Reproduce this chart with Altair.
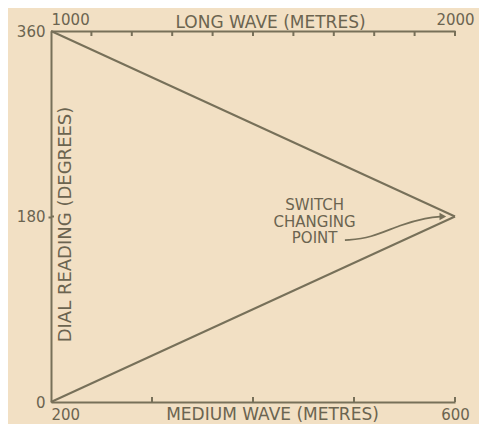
import altair as alt
import pandas as pd

# ---- data ----
mw_wave = [200, 600]          # medium wave (metres)
mw_dial = [0, 180]            # dial reading (degrees)
lw_wave = [2000, 1000]        # long wave (metres)
lw_dial = [180, 360]
mw_tick_values = [300, 400, 500, 600]
lw_tick_values = [1100, 1200, 1300, 1400, 1500, 1600, 1700, 1800, 1900, 2000]
mw_label_values = [200, 600]
lw_label_values = [1000, 2000]
dial_label_values = [0, 180, 360]
mid_tick = [180]
arrow_wave = [491, 516, 546, 572, 588]
arrow_dial = [157, 159, 172, 179, 180]
note_wave = [461]
note_dial = [191]
note_text = ["SWITCH\nCHANGING\nPOINT"]

INK = "#777059"
TEXT = "#6b6450"
BG = "#f2e0c4"
FONT = "DejaVu Sans"
H = 371

mw_df = pd.DataFrame({"wave": mw_wave, "dial": mw_dial})
lw_df = pd.DataFrame({"wave": lw_wave, "dial": lw_dial})
mw_ticks_df = pd.DataFrame({"wave": mw_tick_values})
lw_ticks_df = pd.DataFrame({"wave": lw_tick_values})
mid_df = pd.DataFrame({"dial": mid_tick})
arrow_df = pd.DataFrame({"wave": arrow_wave, "dial": arrow_dial})
head_df = pd.DataFrame({"wave": arrow_wave[-1:], "dial": arrow_dial[-1:]})
note_df = pd.DataFrame({"wave": note_wave, "dial": note_dial, "text": note_text})

mw_scale = alt.Scale(domain=[200, 600], nice=False, zero=False)
lw_scale = alt.Scale(domain=[1000, 2000], nice=False, zero=False)
y_scale = alt.Scale(domain=[0, 360], nice=False)

common_axis = dict(
    domainColor=INK, domainWidth=2, grid=False, format="d",
    labelFont=FONT, labelColor=TEXT, labelFontSize=15, labelFlush=False,
    titleFont=FONT, titleColor=TEXT, titleFontWeight="normal",
)

bottom_axis = alt.Axis(
    orient="bottom", values=mw_label_values, ticks=False,
    labelPadding=5, labelBaseline="top",
    labelAlign={"condition": {"test": "datum.value == 200", "value": "left"}, "value": "center"},
    title="MEDIUM WAVE (METRES)", titleFontSize=17, titleX=221, titleY=4,
    titleBaseline="top", titleAlign="center", titleAnchor="start",
    **common_axis,
)
top_axis = alt.Axis(
    orient="top", values=lw_label_values, ticks=False,
    labelPadding=4,
    labelAlign={"condition": {"test": "datum.value == 1000", "value": "left"}, "value": "center"},
    title="LONG WAVE (METRES)", titleFontSize=17, titleX=219, titleY=-4,
    titleBaseline="alphabetic", titleAlign="center", titleAnchor="start",
    **common_axis,
)
left_axis = alt.Axis(
    orient="left", values=dial_label_values, tickSize=3, tickColor=INK, tickWidth=2,
    tickOpacity={"condition": {"test": "datum.value == 180", "value": 1}, "value": 0},
    labelPadding=3,
    title="DIAL READING (DEGREES)", titleFontSize=18, titleX=14, titleY=193,
    titleAngle=270, titleAlign="center", titleBaseline="middle", titleAnchor="start",
    **common_axis,
)

X_MW = alt.X("wave:Q", scale=mw_scale, axis=bottom_axis, title="MEDIUM WAVE (METRES)")
Y_D = alt.Y("dial:Q", scale=y_scale, axis=left_axis, title="DIAL READING (DEGREES)")
X_LW = alt.X("wave:Q", scale=lw_scale, axis=top_axis, title="LONG WAVE (METRES)")

mw_line = alt.Chart(mw_df).mark_line(color=INK, strokeWidth=2).encode(x=X_MW, y=Y_D)
mw_ticks = alt.Chart(mw_ticks_df).mark_rule(color=INK, strokeWidth=2).encode(
    x=X_MW, y=alt.value(H), y2=alt.value(H - 5),
)
mid_tick_mark = alt.Chart(mid_df).mark_rule(color=INK, strokeWidth=2).encode(
    y=Y_D, x=alt.value(0), x2=alt.value(3),
)
arrow = alt.Chart(arrow_df).mark_line(color=INK, strokeWidth=1.8, interpolate="basis").encode(
    x=X_MW, y=Y_D,
)
head = alt.Chart(head_df).mark_point(
    shape="triangle-right", filled=True, color=INK, size=60, opacity=1
).encode(x=X_MW, y=Y_D)
note = alt.Chart(note_df).mark_text(
    font=FONT, fontSize=15, color=TEXT, align="center", baseline="middle",
    lineBreak="\n", lineHeight=16.5,
).encode(x=X_MW, y=Y_D, text="text:N")

lw_line = alt.Chart(lw_df).mark_line(color=INK, strokeWidth=2).encode(x=X_LW, y=Y_D)
lw_ticks = alt.Chart(lw_ticks_df).mark_rule(color=INK, strokeWidth=2).encode(
    x=X_LW, y=alt.value(0), y2=alt.value(5),
)

medium = alt.layer(mw_line, mw_ticks, mid_tick_mark, arrow, head, note)
long_ = alt.layer(lw_line, lw_ticks)

chart = (
    alt.layer(medium, long_)
    .resolve_scale(x="independent")
    .properties(
        width=404, height=H,
        autosize=alt.AutoSizeParams(type="none"),
        padding={"left": 43, "top": 23, "right": 24, "bottom": 22},
        background=BG,
    )
    .configure_view(stroke=None)
)

chart.save("out.html", embed_options={"renderer": "svg", "actions": False})
